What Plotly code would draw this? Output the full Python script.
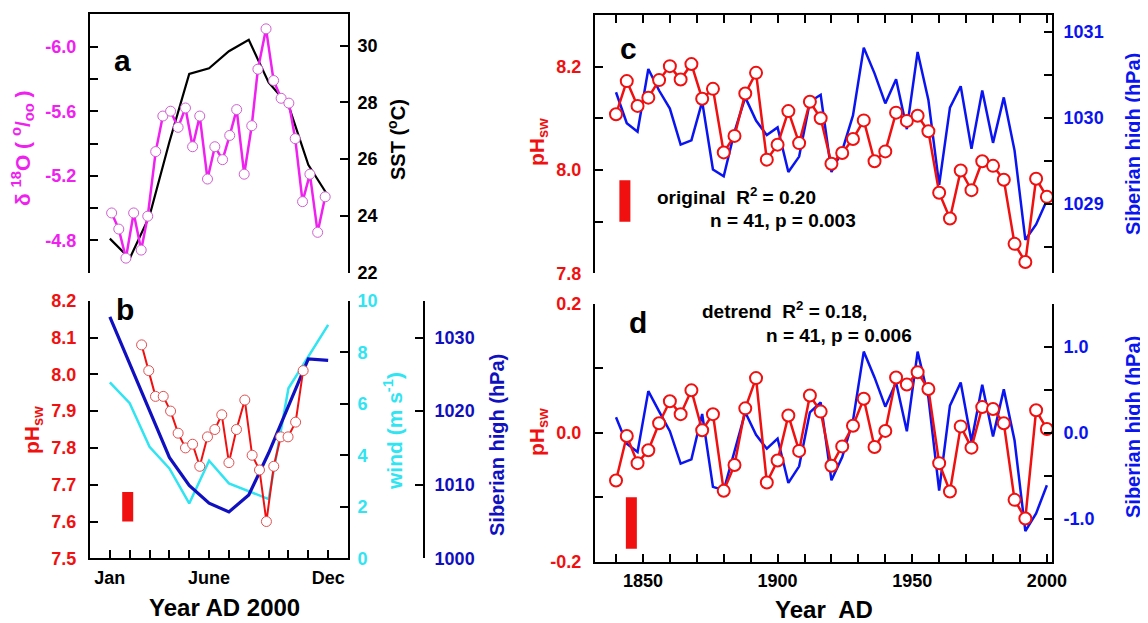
import plotly.graph_objects as go

# browser body has an 8 px margin: figure starts at page pixel (8, 8)
OFF = 8
W, H = 1148 - OFF, 623 - OFF

# ---- panel a : year 2000, coral d18O and SST
d18o_month = [1.09, 1.45, 1.81, 2.20, 2.58, 2.91, 3.31, 3.67, 4.06, 4.44, 4.81, 5.17, 5.53, 5.92, 6.29,
              6.68, 7.04, 7.39, 7.77, 8.15, 8.46, 8.87, 9.25, 9.63, 10.02, 10.34, 10.71, 11.08, 11.47, 11.85]
d18o = [-4.97, -4.87, -4.69, -4.97, -4.74, -4.95, -5.35, -5.57, -5.60, -5.50, -5.62, -5.38, -5.57, -5.18, -5.38,
        -5.30, -5.45, -5.61, -5.21, -5.51, -5.86, -6.11, -5.79, -5.68, -5.65, -5.43, -5.04, -5.21, -4.85, -5.07]
months = [1, 2, 3, 4, 5, 6, 7, 8, 9, 10, 11, 12]
sst = [23.2, 22.5, 24.0, 26.6, 29.0, 29.2, 29.8, 30.2, 28.7, 27.9, 25.8, 24.7]

# ---- panel b : pH, wind, Siberian high in 2000
ph_month = [2.60, 2.96, 3.30, 3.69, 4.06, 4.44, 4.81, 5.17, 5.53, 5.92, 6.29, 6.64, 7.00, 7.38, 7.80,
            8.17, 8.54, 8.89, 9.26, 9.61, 9.98, 10.36, 10.74]
ph_2000 = [8.08, 8.01, 7.94, 7.94, 7.90, 7.84, 7.80, 7.81, 7.75, 7.83, 7.85, 7.89, 7.76, 7.85, 7.93,
           7.78, 7.74, 7.60, 7.75, 7.83, 7.83, 7.87, 8.01]
wind = [6.83, 6.02, 4.33, 3.49, 2.13, 3.79, 2.91, 2.59, 2.30, 6.6, 7.83, 9.06]
sh_2000 = [1032.8, 1026.5, 1020.1, 1013.7, 1009.9, 1007.5, 1006.3, 1008.6, 1014.3, 1020.8, 1027.1, 1026.9]
month_labels = {1: "Jan", 6: "June", 12: "Dec"}

# ---- panels c, d : 1840-2000, every 4 years
years = list(range(1840, 2001, 4))
ph_orig = [8.108, 8.172, 8.124, 8.140, 8.174, 8.201, 8.175, 8.205, 8.138, 8.157, 8.034, 8.066, 8.148, 8.188,
           8.020, 8.049, 8.114, 8.052, 8.132, 8.100, 8.012, 8.033, 8.060, 8.096, 8.017, 8.036, 8.111, 8.095,
           8.105, 8.075, 7.956, 7.906, 7.999, 7.961, 8.017, 8.008, 7.981, 7.857, 7.822, 7.983, 7.948]
sh_orig = [1030.30, 1029.94, 1029.84, 1030.57, 1030.32, 1030.11, 1029.69, 1029.74, 1030.19, 1029.40, 1029.32,
           1029.84, 1030.24, 1029.97, 1029.80, 1029.89, 1029.37, 1029.55, 1030.19, 1030.27, 1029.37, 1029.62,
           1030.03, 1030.82, 1030.52, 1030.17, 1030.45, 1029.87, 1030.77, 1030.21, 1029.22, 1030.12, 1030.37,
           1029.64, 1030.32, 1029.71, 1030.24, 1029.62, 1028.58, 1028.76, 1029.04]
ph_detr = [-0.074, -0.005, -0.047, -0.027, 0.015, 0.049, 0.029, 0.066, 0.004, 0.029, -0.090, -0.050, 0.038,
           0.085, -0.077, -0.043, 0.027, -0.028, 0.058, 0.033, -0.051, -0.021, 0.011, 0.053, -0.022, 0.003,
           0.086, 0.075, 0.094, 0.068, -0.047, -0.091, 0.010, -0.023, 0.040, 0.037, 0.015, -0.104, -0.133,
           0.035, 0.006]
sh_detr = [0.181, -0.127, -0.224, 0.486, 0.251, 0.019, -0.359, -0.309, 0.220, -0.629, -0.668, -0.212, 0.239,
           -0.023, -0.185, -0.066, -0.583, -0.390, 0.239, 0.355, -0.552, -0.282, 0.143, 0.946, 0.645, 0.305,
           0.587, 0.019, 0.946, 0.413, -0.672, 0.317, 0.587, -0.100, 0.560, -0.042, 0.506, -0.089, -1.143,
           -0.938, -0.610]

# analytical error bars (red bars)
err_b_x, err_b_y = 1.9, [7.60, 7.68]
err_c_x, err_c_y = 1843.3, [7.90, 7.98]
err_d_x, err_d_y = 1845.7, [-0.18, -0.10]

RED = "#f01010"
BLUE = "#0a14f0"
DBLUE = "#1010c0"
CYAN = "#30e4f2"
MAG = "#f020f0"
FONT = "Liberation Sans, Arial, sans-serif"


# page pixel -> paper fraction
def fx(px):
    return (px - OFF) / W


def fy(py):
    return 1 - (py - OFF) / H


AX = [fx(90), fx(348)]
AY = [fy(272.7), fy(14.3)]
BY = [fy(558.3), fy(300.7)]
CX = [fx(595), fx(1052)]
CY = [fy(273.3), fy(15)]
DY = [fy(561.7), fy(304)]


def steps(start, stop, step):
    n = int(round((stop - start) / step))
    return [round(start + i * step, 6) for i in range(n + 1)]


def ticks_every(start, stop, step, labelled=None, fmt="{:.1f}"):
    # every tick gets a mark, only the labelled ones get text
    vals = steps(start, stop, step)
    if labelled is None:
        labelled = vals
    text = [fmt.format(v) if any(abs(v - l) < 1e-9 for l in labelled) else "" for v in vals]
    return dict(tickmode="array", tickvals=vals, ticktext=text)


def axis(color, **kw):
    d = dict(showline=True, linecolor="black", linewidth=2, showgrid=False, zeroline=False,
             automargin=False, ticks="inside", ticklen=8, tickwidth=2, tickcolor="black",
             layer="above traces",
             tickfont=dict(family=FONT, size=18, color=color, weight="bold"))
    d.update(kw)
    return d


fig = go.Figure()

# a
fig.add_trace(go.Scatter(x=months, y=sst, mode="lines", line=dict(color="black", width=2.2),
                         xaxis="x", yaxis="y"))
fig.add_trace(go.Scatter(x=d18o_month, y=d18o, mode="lines+markers", line=dict(color=MAG, width=2.5),
                         marker=dict(size=10, color="white", line=dict(color="#d060d0", width=1)),
                         xaxis="x", yaxis="y2"))
# b
fig.add_trace(go.Scatter(x=months, y=wind, mode="lines", line=dict(color=CYAN, width=2.5),
                         xaxis="x2", yaxis="y3"))
fig.add_trace(go.Scatter(x=months, y=sh_2000, mode="lines", line=dict(color=DBLUE, width=3.2),
                         xaxis="x2", yaxis="y4"))
fig.add_trace(go.Scatter(x=ph_month, y=ph_2000, mode="lines+markers", line=dict(color=RED, width=2),
                         marker=dict(size=10, color="white", line=dict(color="#e05050", width=1)),
                         xaxis="x2", yaxis="y5"))
fig.add_trace(go.Scatter(x=[err_b_x, err_b_x], y=err_b_y, mode="lines", line=dict(color=RED, width=11),
                         xaxis="x2", yaxis="y5"))
# c
fig.add_trace(go.Scatter(x=years, y=sh_orig, mode="lines", line=dict(color=BLUE, width=2.5),
                         xaxis="x3", yaxis="y6"))
fig.add_trace(go.Scatter(x=years, y=ph_orig, mode="lines+markers", line=dict(color=RED, width=2.5),
                         marker=dict(size=12, color="white", line=dict(color=RED, width=2)),
                         xaxis="x3", yaxis="y7"))
fig.add_trace(go.Scatter(x=[err_c_x, err_c_x], y=err_c_y, mode="lines", line=dict(color=RED, width=11),
                         xaxis="x3", yaxis="y7"))
# d
fig.add_trace(go.Scatter(x=years, y=sh_detr, mode="lines", line=dict(color=BLUE, width=2.5),
                         xaxis="x4", yaxis="y8"))
fig.add_trace(go.Scatter(x=years, y=ph_detr, mode="lines+markers", line=dict(color=RED, width=2.5),
                         marker=dict(size=12, color="white", line=dict(color=RED, width=2)),
                         xaxis="x4", yaxis="y9"))
fig.add_trace(go.Scatter(x=[err_d_x, err_d_x], y=err_d_y, mode="lines", line=dict(color=RED, width=11),
                         xaxis="x4", yaxis="y9"))

yr_range = [1832.2, 2001.9]
month_ticks = dict(tickmode="array", tickvals=months,
                   ticktext=[month_labels.get(m, "") for m in months])

fig.update_layout(
    template="none",
    width=W, height=H, margin=dict(l=0, r=0, t=0, b=0, pad=0),
    paper_bgcolor="white", plot_bgcolor="rgba(0,0,0,0)", showlegend=False,
    # panel a
    xaxis=axis("black", domain=AX, range=[0, 13], anchor="y", side="top", ticks="",
               showticklabels=False),
    yaxis=axis("black", domain=AY, anchor="x", side="right", range=[22, 31.1], ticklabelstandoff=4,
               **ticks_every(22, 30, 2, fmt="{:.0f}")),
    yaxis2=axis(MAG, overlaying="y", anchor="x", side="left", range=[-4.6, -6.2], ticklabelstandoff=8,
                **ticks_every(-6.0, -4.6, 0.2, labelled=[-6.0, -5.6, -5.2, -4.8])),
    # panel b
    xaxis2=axis("black", domain=AX, range=[0, 13], anchor="y3", side="bottom", ticklabelstandoff=2,
                **month_ticks),
    yaxis3=axis(CYAN, domain=BY, anchor="x2", side="right", range=[0, 10], ticklabelstandoff=4,
                **ticks_every(0, 10, 2, fmt="{:.0f}")),
    yaxis4=axis(DBLUE, overlaying="y3", anchor="free", position=fx(424), side="right",
                range=[1000, 1035], ticklabelstandoff=6, **ticks_every(1000, 1030, 10, fmt="{:.0f}")),
    yaxis5=axis(RED, overlaying="y3", anchor="x2", side="left", range=[7.5, 8.2], ticklabelstandoff=8,
                **ticks_every(7.5, 8.2, 0.1)),
    # panel c
    xaxis3=axis("black", domain=CX, range=yr_range, anchor="y6", side="top", showticklabels=False,
                **ticks_every(1840, 2000, 10, fmt="{:.0f}")),
    yaxis6=axis(BLUE, domain=CY, anchor="x3", side="right", range=[1028.19, 1031.2], ticklabelstandoff=6,
                **ticks_every(1028.5, 1031, 0.5, labelled=[1029, 1030, 1031], fmt="{:.0f}")),
    yaxis7=axis(RED, overlaying="y6", anchor="x3", side="left", range=[7.8, 8.3], ticklabelstandoff=8,
                **ticks_every(7.8, 8.2, 0.1, labelled=[7.8, 8.0, 8.2])),
    # panel d
    xaxis4=axis("black", domain=CX, range=yr_range, anchor="y8", side="bottom", ticklabelstandoff=2,
                **ticks_every(1840, 2000, 10, labelled=[1850, 1900, 1950, 2000], fmt="{:.0f}")),
    yaxis8=axis(BLUE, domain=DY, anchor="x4", side="right", range=[-1.5, 1.5], ticklabelstandoff=6,
                **ticks_every(-1.5, 1.5, 0.5, labelled=[-1.0, 0.0, 1.0])),
    yaxis9=axis(RED, overlaying="y8", anchor="x4", side="left", range=[-0.2, 0.2], ticklabelstandoff=8,
                **ticks_every(-0.2, 0.2, 0.1, labelled=[-0.2, 0.0, 0.2])),
)


def note(text, px, py, size=17, color="black", angle=0, xanchor="center"):
    fig.add_annotation(text=text, x=fx(px), y=fy(py), xref="paper", yref="paper", showarrow=False,
                       textangle=angle, xanchor=xanchor, yanchor="middle",
                       font=dict(family=FONT, size=size, color=color, weight="bold"))


# panel letters
note("a", 122, 60, size=30)
note("b", 125, 310, size=30)
note("c", 628, 48, size=30)
note("d", 638, 322, size=30)

# axis titles
note("δ <sup>18</sup>O ( <sup>o</sup>/<sub>oo</sub> )", 22, 148, size=21, color=MAG, angle=-90)
note("SST (<sup>o</sup>C)", 397, 140, size=20, angle=-90)
note("pH<sub>sw</sub>", 33, 430, size=21, color=RED, angle=-90)
note("wind (m s<sup>-1</sup>)", 393, 431, size=21, color=CYAN, angle=-90)
note("Siberian high (hPa)", 497, 445, size=20, color=DBLUE, angle=-90)
note("Year AD 2000", 224, 607, size=24)
note("pH<sub>sw</sub>", 538, 142, size=21, color=RED, angle=-90)
note("pH<sub>sw</sub>", 538, 432, size=21, color=RED, angle=-90)
note("Siberian high (hPa)", 1133, 144, size=20, color=BLUE, angle=-90)
note("Siberian high (hPa)", 1133, 427, size=20, color=BLUE, angle=-90)
note("Year  AD", 824, 609, size=24)

# statistics
note("original  R<sup>2</sup> = 0.20", 655, 196, size=19, xanchor="left")
note("n = 41, p = 0.003", 708, 221, size=19, xanchor="left")
note("detrend  R<sup>2</sup> = 0.18,", 700, 310, size=19, xanchor="left")
note("n = 41, p = 0.006", 764, 335, size=19, xanchor="left")

fig.write_html("out.html")
